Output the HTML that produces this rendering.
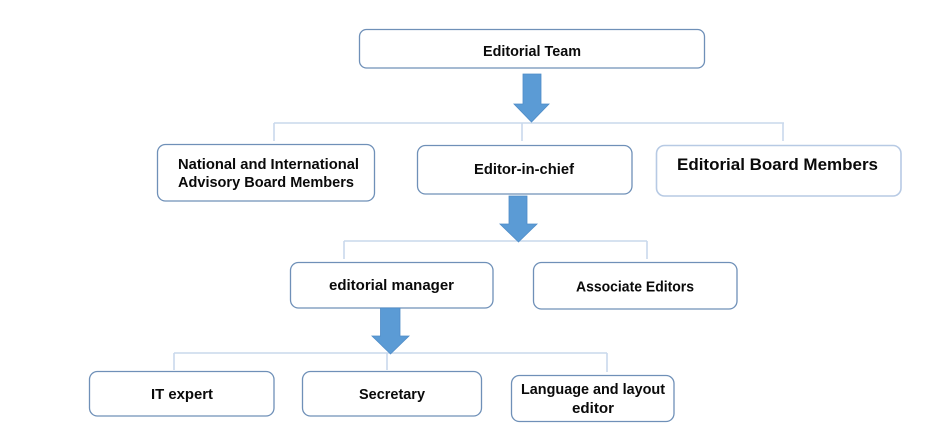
<!DOCTYPE html>
<html>
<head>
<meta charset="utf-8">
<style>
  html, body { margin: 0; padding: 0; background: #ffffff; }
  body { width: 949px; height: 448px; overflow: hidden; }
  svg { display: block; }
  text { font-family: "Liberation Sans", "DejaVu Sans", sans-serif; font-weight: bold; fill: #0a0a0a; font-size: 15px; }
</style>
</head>
<body>
<svg width="949" height="448" viewBox="0 0 949 448" xmlns="http://www.w3.org/2000/svg">
  <!-- connector lines -->
  <g stroke="#c9d8ec" stroke-width="1.6" fill="none">
    <path d="M274 123 H784 M274 123 V141 M522 123 V141 M783 123 V141"/>
    <path d="M344 241 H647 M344 241 V259 M647 241 V259"/>
    <path d="M174 353 H607 M174 353 V370 M387 353 V370 M607 353 V372"/>
  </g>

  <!-- boxes -->
  <g fill="#ffffff" stroke="#6f90b8" stroke-width="1.3">
    <rect x="359.5" y="29.5" width="345" height="38.5" rx="7"/>
    <rect x="157.5" y="144.5" width="217" height="56.5" rx="8"/>
    <rect x="417.5" y="145.5" width="214.5" height="48.5" rx="8"/>
    <rect x="290.5" y="262.5" width="202.5" height="45.5" rx="8"/>
    <rect x="533.5" y="262.5" width="203.5" height="46.5" rx="8"/>
    <rect x="89.5" y="371.5" width="184.5" height="44.5" rx="8"/>
    <rect x="302.5" y="371.5" width="179" height="44.5" rx="8"/>
    <rect x="511.5" y="375.5" width="162.5" height="46" rx="8"/>
  </g>
  <rect x="656.5" y="145.5" width="244.5" height="50.5" rx="8" fill="#ffffff" stroke="#b7cae4" stroke-width="1.6"/>

  <!-- block arrows -->
  <g fill="#5b9bd5" stroke="#4f8cc7" stroke-width="0.8">
    <path d="M523 74 H541 V104 H549 L531.5 122 L514 104 H523 Z"/>
    <path d="M509 196 H527 V224 H537 L518.5 242 L500 224 H509 Z"/>
    <path d="M380.5 308 H400 V336 H409 L390.5 354 L372 336 H380.5 Z"/>
  </g>

  <!-- labels -->
  <text x="483" y="56" textLength="98" lengthAdjust="spacingAndGlyphs">Editorial Team</text>
  <text x="178" y="169" textLength="181" lengthAdjust="spacingAndGlyphs">National and International</text>
  <text x="178" y="187" textLength="176" lengthAdjust="spacingAndGlyphs">Advisory Board Members</text>
  <text x="474" y="174" textLength="100" lengthAdjust="spacingAndGlyphs">Editor-in-chief</text>
  <text x="677" y="170" textLength="201" lengthAdjust="spacingAndGlyphs" style="font-size:16.5px">Editorial Board Members</text>
  <text x="329" y="290" textLength="125" lengthAdjust="spacingAndGlyphs">editorial manager</text>
  <text x="576" y="291.5" textLength="118" lengthAdjust="spacingAndGlyphs">Associate Editors</text>
  <text x="151" y="399" textLength="62" lengthAdjust="spacingAndGlyphs">IT expert</text>
  <text x="359" y="399" textLength="66" lengthAdjust="spacingAndGlyphs">Secretary</text>
  <text x="521" y="394" textLength="144" lengthAdjust="spacingAndGlyphs">Language and layout</text>
  <text x="572" y="413" textLength="42" lengthAdjust="spacingAndGlyphs">editor</text>
</svg>
</body>
</html>
